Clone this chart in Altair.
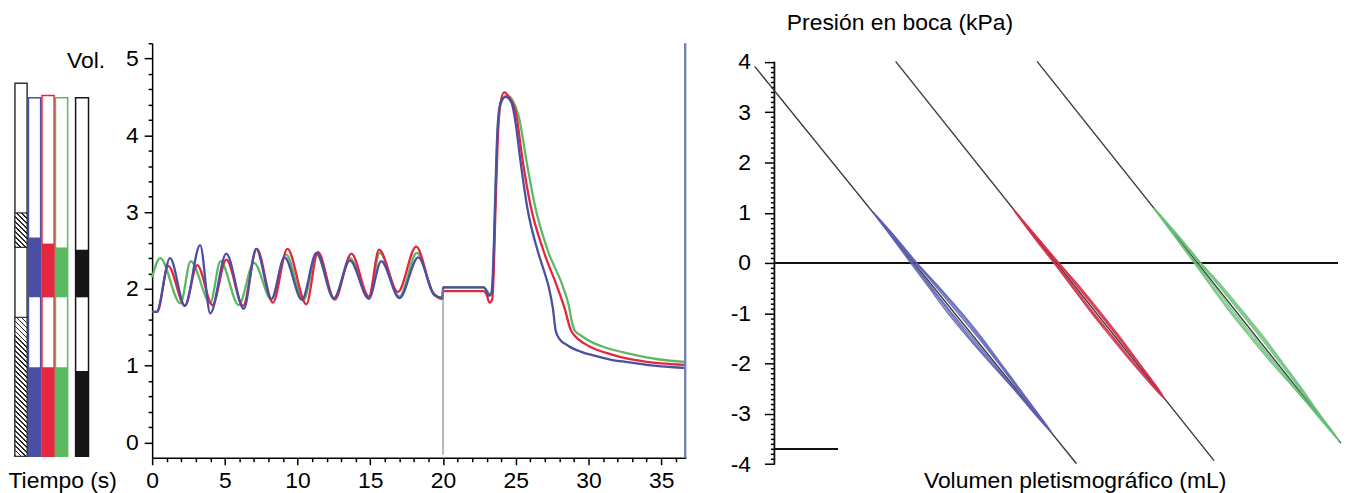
import altair as alt
import pandas as pd

FONT = "Liberation Sans"
FS = 23

# ---------------- Left panel: volume vs time ----------------
t_azul = [0, 0.3, 1.23, 2.25, 3.3, 4.0, 5.1, 6.3, 7.15, 8.2, 9.1, 10.3, 11.3, 12.5, 13.6, 14.9, 15.75, 17.0, 18.3, 19.4, 19.97,
          20.0, 22.8, 23.0, 23.15, 23.3, 23.4, 23.5, 23.62, 23.75, 23.95, 24.3, 24.7, 25.0, 25.3, 25.8, 26.5, 27.0, 27.3,
          27.55, 27.75, 28.0, 28.6, 29.5, 30.4, 31.5, 32.7, 34.0, 35.0, 36.6]
v_azul = [1.70, 1.70, 2.40, 1.78, 2.57, 1.68, 2.46, 1.74, 2.52, 1.87, 2.41, 1.86, 2.47, 1.88, 2.37, 1.87, 2.36, 1.88, 2.41, 1.92, 1.88,
          2.02, 2.02, 1.97, 1.91, 1.93, 2.10, 2.60, 3.40, 4.10, 4.42, 4.50, 4.43, 4.15, 3.70, 3.05, 2.50, 2.20, 2.00,
          1.75, 1.45, 1.35, 1.26, 1.18, 1.13, 1.08, 1.045, 1.01, 0.99, 0.97]

t_rojo = [0, 0.35, 1.1, 2.25, 3.1, 4.15, 5.1, 6.25, 7.2, 8.3, 9.3, 10.6, 11.4, 12.55, 13.7, 14.9, 15.6, 16.9, 18.15, 19.3, 19.97,
          20.0, 22.8, 23.0, 23.2, 23.38, 23.48, 23.6, 23.75, 23.95, 24.2, 24.6, 25.0, 25.5, 26.0, 26.9, 27.9, 28.4, 28.75,
          29.1, 29.7, 30.4, 31.5, 32.7, 34.0, 35.0, 36.6]
v_rojo = [1.70, 1.70, 2.30, 1.78, 2.31, 1.79, 2.38, 1.78, 2.52, 1.82, 2.52, 1.80, 2.48, 1.86, 2.46, 1.90, 2.51, 1.96, 2.55, 1.95, 1.87,
          1.97, 1.97, 1.92, 1.82, 1.86, 2.20, 3.00, 3.90, 4.42, 4.56, 4.48, 4.30, 3.64, 3.10, 2.50, 2.00, 1.72, 1.48,
          1.38, 1.29, 1.22, 1.15, 1.09, 1.05, 1.03, 1.01]

t_verde = [0, 0.55, 1.95, 2.65, 4.0, 4.7, 5.95, 7.0, 8.2, 9.2, 10.4, 11.3, 12.5, 13.6, 14.9, 15.65, 17.0, 18.2, 19.4, 19.97,
           20.0, 22.8, 23.0, 23.2, 23.35, 23.45, 23.57, 23.72, 23.95, 24.4, 24.8, 25.2, 25.8, 26.3, 27.2, 28.2, 28.65,
           28.85, 29.05, 29.5, 30.4, 31.1, 32.7, 34.9, 36.6]
v_verde = [2.15, 2.40, 1.81, 2.36, 1.82, 2.36, 1.79, 2.34, 1.86, 2.45, 1.85, 2.45, 1.87, 2.40, 1.88, 2.47, 1.90, 2.47, 1.93, 1.88,
           2.02, 2.02, 1.98, 1.93, 1.95, 2.20, 3.00, 3.90, 4.40, 4.52, 4.45, 4.25, 3.60, 3.10, 2.50, 2.05, 1.78,
           1.58, 1.46, 1.39, 1.29, 1.24, 1.16, 1.08, 1.05]

step_t = [20.0]
step_lo = [-0.16]
step_hi = [2.0]
end_t = [36.65]
end_lo = [-0.2]
end_hi = [5.2]

# ---------------- Bars at far left ----------------
main_slots = ["ref", "azul", "rojo", "verde"]
side_slots = ["negro"]
outline_cols = ["ref", "azul", "rojo", "verde", "negro"]
outline_lo = [-0.18, -0.18, -0.18, -0.18, -0.18]
outline_hi = [4.68, 4.49, 4.52, 4.49, 4.49]
fill_cols = ["azul", "azul", "rojo", "rojo", "verde", "verde", "negro", "negro"]
fill_lo = [1.89, -0.18, 1.89, -0.18, 1.89, -0.18, 1.89, -0.18]
fill_hi = [2.67, 0.98, 2.59, 0.98, 2.54, 0.98, 2.51, 0.93]
hatch_lo = [2.54, -0.18]
hatch_hi = [2.99, 1.63]

# ---------------- Right panel: pressure vs plethysmographic volume ----------------
line_x = [-3.5, 21.5, 46.6]
line_y = [3.91, 4.01, 4.01]
line_x2 = [53.6, 78.0, 100.5]
line_y2 = [-3.99, -3.93, -3.58]

azul_l1_x = [17.6, 21.6, 25.3, 29.4, 33.3, 36.9, 40.2, 43.5, 46.8, 49.4, 46.2, 42.4, 38.4, 34.5, 30.8, 27.5, 24.2, 20.9, 17.6]
azul_l1_y = [1.0, 0.5, 0, -0.5, -1, -1.5, -2, -2.5, -3, -3.4, -3, -2.5, -2, -1.5, -1, -0.5, 0, 0.5, 1.0]
azul_l2_x = [17.9, 21.4, 25.1, 28.9, 32.6, 36.3, 39.8, 43.2, 46.7, 48.7, 46.4, 42.6, 38.9, 35.2, 31.5, 28.0, 24.6, 21.1, 17.9]
azul_l2_y = [0.95, 0.5, 0, -0.5, -1, -1.5, -2, -2.5, -3, -3.3, -3, -2.5, -2, -1.5, -1, -0.5, 0, 0.5, 0.95]
azul_l3_x = [17.6, 21.5, 25.2, 29.2, 33.0, 36.6, 40.0, 43.3, 46.7, 49.0, 46.3, 42.5, 38.6, 34.8, 31.2, 27.8, 24.4, 21.0, 17.6]
azul_l3_y = [1.0, 0.5, 0, -0.5, -1, -1.5, -2, -2.5, -3, -3.35, -3, -2.5, -2, -1.5, -1, -0.5, 0, 0.5, 1.0]
rojo_l1_x = [42.5, 46.7, 50.5, 54.4, 58.0, 61.5, 64.8, 68.1, 69.2, 67.5, 63.6, 59.9, 56.3, 53.0, 49.6, 46.1, 42.5]
rojo_l1_y = [1.05, 0.5, 0, -0.5, -1, -1.5, -2, -2.5, -2.7, -2.5, -2, -1.5, -1, -0.5, 0, 0.5, 1.05]
rojo_l2_x = [42.9, 46.6, 50.3, 54.0, 57.6, 61.1, 64.5, 68.0, 68.5, 67.7, 63.9, 60.3, 56.7, 53.3, 49.8, 46.3, 42.9]
rojo_l2_y = [1.0, 0.5, 0, -0.5, -1, -1.5, -2, -2.5, -2.6, -2.5, -2, -1.5, -1, -0.5, 0, 0.5, 1.0]
rojo_l3_x = [42.7, 46.7, 50.4, 54.2, 57.8, 61.3, 64.7, 68.0, 68.9, 67.6, 63.8, 60.2, 56.5, 53.0, 49.7, 46.2, 42.7]
rojo_l3_y = [1.02, 0.5, 0, -0.5, -1, -1.5, -2, -2.5, -2.65, -2.5, -2, -1.5, -1, -0.5, 0, 0.5, 1.02]
verde_l1_x = [67.3, 72.0, 75.7, 79.7, 83.4, 87.0, 90.3, 93.6, 96.7, 100.3, 96.1, 92.3, 88.3, 84.6, 81.0, 77.7, 74.5, 71.2, 67.3]
verde_l1_y = [1.1, 0.5, 0, -0.5, -1, -1.5, -2, -2.5, -3, -3.55, -3, -2.5, -2, -1.5, -1, -0.5, 0, 0.5, 1.1]
verde_l2_x = [67.7, 71.8, 75.4, 79.2, 82.8, 86.4, 89.8, 93.2, 96.6, 100.0, 96.3, 92.6, 88.9, 85.3, 81.7, 78.3, 74.8, 71.4, 67.7]
verde_l2_y = [1.05, 0.5, 0, -0.5, -1, -1.5, -2, -2.5, -3, -3.5, -3, -2.5, -2, -1.5, -1, -0.5, 0, 0.5, 1.05]
verde_l3_x = [67.4, 71.9, 75.6, 79.4, 83.1, 86.7, 90.1, 93.4, 96.6, 100.1, 96.2, 92.4, 88.6, 84.9, 81.3, 77.9, 74.7, 71.3, 67.4]
verde_l3_y = [1.08, 0.5, 0, -0.5, -1, -1.5, -2, -2.5, -3, -3.52, -3, -2.5, -2, -1.5, -1, -0.5, 0, 0.5, 1.08]

zero_x, zero_x2, zero_y = [0], [100], [0]
short_x, short_x2, short_y = [0], [11.3], [-3.70]
axis_x, axis_y, axis_y2 = [0], [-4.0], [4.0]

# ---------------- styling ----------------
C_AZUL, C_ROJO, C_VERDE = "#4b4fa3", "#e6253f", "#5cb962"
PV_AZUL, PV_ROJO, PV_VERDE = "#5a5eb4", "#d6304a", "#6abf78"

T_W, T_H = 537, 417
T_DOM = [0, 36.7]
V_DOM = [-0.2, 5.2]
PX_PER_V = T_H / (V_DOM[1] - V_DOM[0])

AX_T = alt.Axis(title="Tiempo (s)", values=list(range(0, 37)),
                labelExpr="datum.value % 5 === 0 ? '' + datum.value : ''",
                tickSize={"condition": {"test": "datum.value % 5 === 0", "value": 7}, "value": 4},
                tickWidth=1.5, domainWidth=1.5, labelPadding=5, labelFlush=False, labelOverlap=False,
                titleX=-145, titleY=12, titleAlign="left", titleBaseline="top")
AY_V = alt.Axis(title="Vol.", values=[round(i * 0.2, 1) for i in range(27)],
                labelExpr="datum.value % 1 === 0 ? '' + datum.value : ''",
                tickSize={"condition": {"test": "datum.value % 1 === 0", "value": 8}, "value": 4},
                tickWidth=1.5, domainWidth=1.5, labelPadding=6, labelFlush=False, labelOverlap=False,
                titleAngle=0, titleX=-67, titleY=6, titleAlign="center", titleBaseline="top")
X_T = alt.X("t:Q", scale=alt.Scale(domain=T_DOM, nice=False, zero=False), axis=AX_T)
Y_V = alt.Y("v:Q", scale=alt.Scale(domain=V_DOM, nice=False, zero=False), axis=AY_V)


def series(t, v):
    return pd.DataFrame({"t": t, "v": v})


time_layers = [
    alt.Chart(series(t_verde, v_verde)).mark_line(color=C_VERDE, strokeWidth=2.3, interpolate="monotone").encode(x=X_T, y=Y_V),
    alt.Chart(series(t_rojo, v_rojo)).mark_line(color=C_ROJO, strokeWidth=2.3, interpolate="monotone").encode(x=X_T, y=Y_V),
    alt.Chart(series(t_azul, v_azul)).mark_line(color=C_AZUL, strokeWidth=2.3, interpolate="monotone").encode(x=X_T, y=Y_V),
    alt.Chart(pd.DataFrame({"t": step_t, "v": step_lo, "v2": step_hi})).mark_rule(color="#8a8a8a", strokeWidth=1.2)
        .encode(x=X_T, y=Y_V, y2="v2:Q"),
    alt.Chart(pd.DataFrame({"t": end_t, "v": end_lo, "v2": end_hi})).mark_rule(color="#7183ad", strokeWidth=2.4)
        .encode(x=X_T, y=Y_V, y2="v2:Q"),
]
time_chart = alt.layer(*time_layers).properties(width=T_W, height=T_H)

# ---------------- bars panel ----------------
MAIN_RANGE = [6, 59]
SIDE_RANGE = [67, 80]
PAD_IN = 0.1
band_w = (MAIN_RANGE[1] - MAIN_RANGE[0]) / (len(main_slots) - PAD_IN) * (1 - PAD_IN)


def hatch_gradient(w, h, period=5.0, line=1.7):
    r = w / h
    s = (r + 1) / (r * r + 1)
    total = w + h
    stops = []
    k = 0
    while k * period < total:
        a = k * period / total
        b = min((k * period + line) / total, 1.0)
        c = min((k + 1) * period / total, 1.0)
        stops += [{"offset": round(a, 5), "color": "#2a2a2a"}, {"offset": round(b, 5), "color": "#2a2a2a"},
                  {"offset": round(b, 5), "color": "#ffffff"}, {"offset": round(c, 5), "color": "#ffffff"}]
        k += 1
    return {"gradient": "linear", "x1": 1, "y1": 0, "x2": round(1 - s * r, 5), "y2": round(s, 5), "stops": stops}


bar_colors = alt.Scale(domain=["ref", "azul", "rojo", "verde", "negro"],
                       range=["#333333", C_AZUL, C_ROJO, C_VERDE, "#161616"])
X_MAIN = alt.X("col:N", scale=alt.Scale(domain=main_slots, range=MAIN_RANGE, paddingInner=PAD_IN, paddingOuter=0), axis=None)
X_SIDE = alt.X("col:N", scale=alt.Scale(domain=side_slots, range=SIDE_RANGE, paddingInner=0, paddingOuter=0), axis=None)
Y_B = alt.Y("lo:Q", scale=alt.Scale(domain=V_DOM, nice=False, zero=False), axis=None)

df_out = pd.DataFrame({"col": outline_cols, "lo": outline_lo, "hi": outline_hi})
df_fill = pd.DataFrame({"col": fill_cols, "lo": fill_lo, "hi": fill_hi})

bar_layers = []
for xenc, slots in [(X_MAIN, main_slots), (X_SIDE, side_slots)]:
    bar_layers.append(
        alt.Chart(df_out[df_out.col.isin(slots)]).mark_rect(fill="white", strokeWidth=1.5)
        .encode(x=xenc, y=Y_B, y2="hi:Q", stroke=alt.Stroke("col:N", scale=bar_colors, legend=None)))
    bar_layers.append(
        alt.Chart(df_fill[df_fill.col.isin(slots)]).mark_rect()
        .encode(x=xenc, y=Y_B, y2="hi:Q", fill=alt.Fill("col:N", scale=bar_colors, legend=None)))
for lo, hi in zip(hatch_lo, hatch_hi):
    g = hatch_gradient(band_w, (hi - lo) * PX_PER_V)
    bar_layers.append(
        alt.Chart(pd.DataFrame({"col": ["ref"], "lo": [lo], "hi": [hi]}))
        .mark_rect(fill=g, stroke="#333333", strokeWidth=1.2)
        .encode(x=X_MAIN, y=Y_B, y2="hi:Q")
    )
bars_chart = alt.layer(*bar_layers).resolve_scale(x="independent").properties(width=144, height=T_H)

# ---------------- spacer ----------------
spacer = alt.Chart(pd.DataFrame({"a": [0]})).mark_point(opacity=0).encode(
    x=alt.X("a:Q", axis=None), y=alt.Y("a:Q", axis=None)).properties(width=89, height=T_H)

# ---------------- PV panel ----------------
P_W, P_H = 567, 425
AX_P = alt.Axis(title="Volumen pletismográfico (mL)", domain=False, ticks=False, labels=False,
                titleX=302, titleY=4, titleAlign="center", titleBaseline="top")
AY_P = alt.Axis(title="Presión en boca (kPa)", values=[round(i * 0.1, 1) for i in range(-40, 41)],
                labelExpr="datum.value % 1 === 0 ? '' + datum.value : ''",
                tickSize={"condition": {"test": "datum.value % 1 === 0", "value": 10}, "value": 4},
                tickWidth=1.5, domain=False, labelPadding=14, labelFlush=False, labelOverlap=False,
                titleAngle=0, titleX=12, titleY=-32, titleAlign="left", titleBaseline="top")
X_P = alt.X("x:Q", scale=alt.Scale(domain=[0, 100], nice=False, zero=False), axis=AX_P)
Y_P = alt.Y("y:Q", scale=alt.Scale(domain=[-4.03, 4.37], nice=False, zero=False), axis=AY_P)


def loop_df(xs, ys):
    return pd.DataFrame({"x": xs, "y": ys, "ord": list(range(len(xs)))})


pv_layers = [
    alt.Chart(pd.DataFrame({"x": axis_x, "y": axis_y, "y2": axis_y2})).mark_rule(color="#111111", strokeWidth=1.8)
        .encode(x=X_P, y=Y_P, y2="y2:Q"),
    alt.Chart(pd.DataFrame({"x": zero_x, "x2": zero_x2, "y": zero_y})).mark_rule(color="#111111", strokeWidth=2)
        .encode(x=X_P, x2="x2:Q", y=Y_P),
    alt.Chart(pd.DataFrame({"x": short_x, "x2": short_x2, "y": short_y})).mark_rule(color="#111111", strokeWidth=2)
        .encode(x=X_P, x2="x2:Q", y=Y_P),
    alt.Chart(pd.DataFrame({"x": line_x, "y": line_y, "x2": line_x2, "y2": line_y2}))
        .mark_rule(color="#3a3a3a", strokeWidth=1.4)
        .encode(x=X_P, y=Y_P, x2="x2:Q", y2="y2:Q"),
]
for xs, ys, col in [(azul_l1_x, azul_l1_y, PV_AZUL), (azul_l2_x, azul_l2_y, PV_AZUL), (azul_l3_x, azul_l3_y, PV_AZUL),
                    (rojo_l1_x, rojo_l1_y, PV_ROJO), (rojo_l2_x, rojo_l2_y, PV_ROJO), (rojo_l3_x, rojo_l3_y, PV_ROJO),
                    (verde_l1_x, verde_l1_y, PV_VERDE), (verde_l2_x, verde_l2_y, PV_VERDE), (verde_l3_x, verde_l3_y, PV_VERDE)]:
    pv_layers.append(
        alt.Chart(loop_df(xs, ys)).mark_line(color=col, strokeWidth=1.5, opacity=0.85, interpolate="catmull-rom")
        .encode(x=X_P, y=Y_P, order="ord:Q")
    )
pv_chart = alt.layer(*pv_layers).properties(width=P_W, height=P_H)

chart = alt.hconcat(bars_chart, time_chart, spacer, pv_chart, spacing=0, bounds="flush").properties(
    padding={"left": 0, "top": 2, "right": 0, "bottom": 0},
    background="white",
).configure_view(strokeWidth=0).configure_axis(
    grid=False, labelFont=FONT, titleFont=FONT, labelFontSize=FS, titleFontSize=FS,
    labelColor="black", titleColor="black", domainColor="black", tickColor="black",
    titleFontWeight="normal",
)

chart.save("out.html", embed_options={"renderer": "svg", "actions": False})
